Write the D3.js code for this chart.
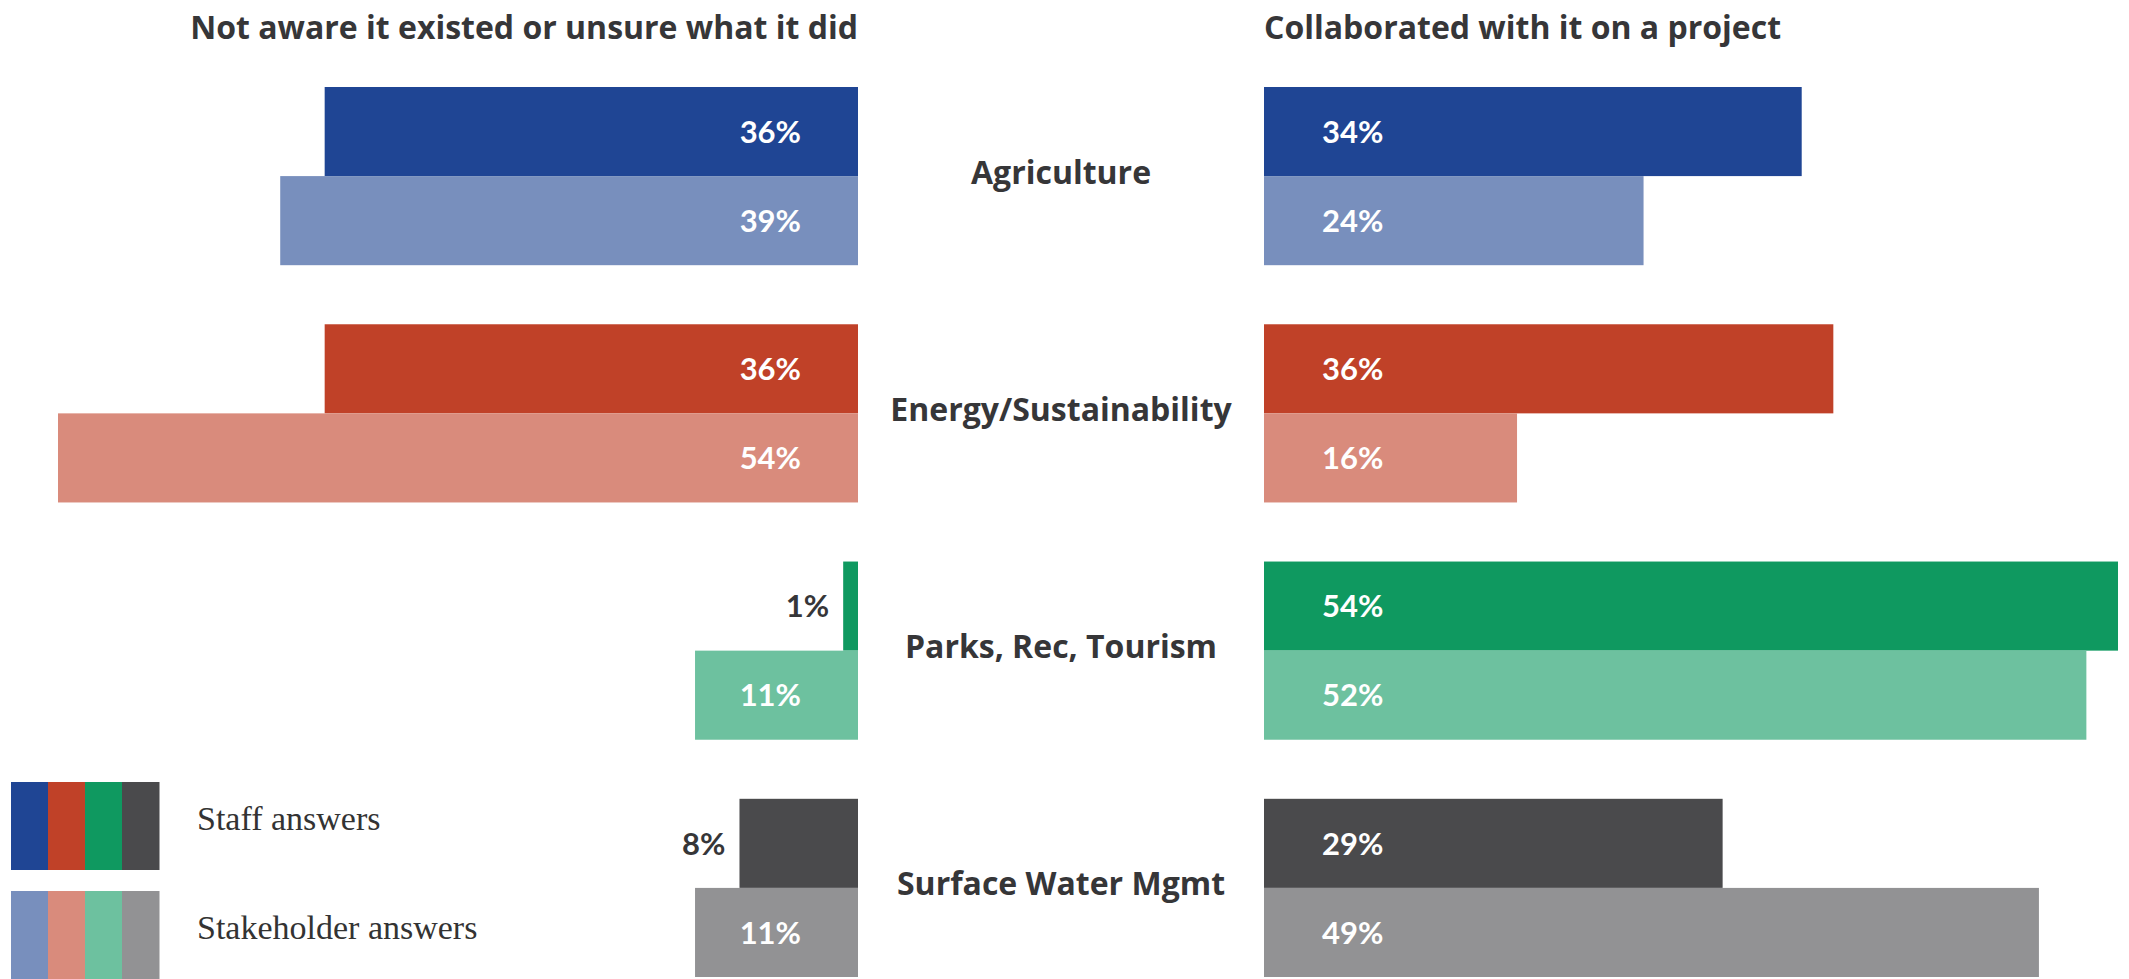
<!DOCTYPE html>
<html>
<head>
<meta charset="utf-8">
<script src="https://cdn.jsdelivr.net/npm/d3@7"></script>
<style>
  html, body { margin: 0; padding: 0; background: #ffffff; }
  svg { display: block; }
</style>
</head>
<body>
<svg id="chart" width="2129" height="979"></svg>
<script>
// ---- Data ----
const categories = ["Agriculture", "Energy/Sustainability", "Parks, Rec, Tourism", "Surface Water Mgmt"];
const seriesNames = ["Staff answers", "Stakeholder answers"];
const notAwareStaff = [36, 36, 1, 8];
const notAwareStakeholder = [39, 54, 11, 11];
const collaboratedStaff = [34, 36, 54, 29];
const collaboratedStakeholder = [24, 16, 52, 49];
const panelTitles = ["Not aware it existed or unsure what it did", "Collaborated with it on a project"];
const staffColors = ["#1f4594", "#c04128", "#0f9960", "#4a4a4c"];
const stakeholderColors = ["#788fbd", "#d98b7c", "#6dc19f", "#929294"];

// ---- Layout ----
const leftZero = 858, rightZero = 1264;
const headFont = "'Open Sans', Lato, sans-serif";
const numFont = "Lato, 'Open Sans', sans-serif";
const textDark = "#363638";

const svg = d3.select("#chart");

const yGroup = d3.scaleBand().domain(categories).range([87, 977]).paddingInner(0.249).paddingOuter(0);
const ySeries = d3.scaleBand().domain(seriesNames).range([0, yGroup.bandwidth()]).padding(0);

const xLeft = d3.scaleLinear().domain([0, 54]).range([leftZero, 58]);
const xRight = d3.scaleLinear().domain([0, 54]).range([rightZero, 2118]);

const rows = [];
categories.forEach((c, i) => {
  rows.push({cat: c, series: seriesNames[0], left: notAwareStaff[i], right: collaboratedStaff[i], color: staffColors[i]});
  rows.push({cat: c, series: seriesNames[1], left: notAwareStakeholder[i], right: collaboratedStakeholder[i], color: stakeholderColors[i]});
});

// Titles
svg.append("text")
  .attr("x", leftZero).attr("y", 39)
  .attr("text-anchor", "end")
  .attr("font-family", headFont).attr("font-weight", 700).attr("font-size", 32)
  .attr("fill", textDark)
  .text(panelTitles[0]);
svg.append("text")
  .attr("x", rightZero).attr("y", 39)
  .attr("text-anchor", "start")
  .attr("font-family", headFont).attr("font-weight", 700).attr("font-size", 32)
  .attr("fill", textDark)
  .text(panelTitles[1]);

const g = svg.append("g");

// Left bars
g.selectAll("rect.left").data(rows).join("rect")
  .attr("class", "left")
  .attr("x", d => xLeft(d.left))
  .attr("y", d => yGroup(d.cat) + ySeries(d.series))
  .attr("width", d => xLeft(0) - xLeft(d.left))
  .attr("height", ySeries.bandwidth())
  .attr("fill", d => d.color);

// Right bars
g.selectAll("rect.right").data(rows).join("rect")
  .attr("class", "right")
  .attr("x", xRight(0))
  .attr("y", d => yGroup(d.cat) + ySeries(d.series))
  .attr("width", d => xRight(d.right) - xRight(0))
  .attr("height", ySeries.bandwidth())
  .attr("fill", d => d.color);

// Left labels
g.selectAll("text.lval").data(rows).join("text")
  .attr("class", "lval")
  .attr("x", d => d.left < 10 ? xLeft(d.left) - 14 : leftZero - 57)
  .attr("y", d => yGroup(d.cat) + ySeries(d.series) + ySeries.bandwidth() / 2)
  .attr("dy", "0.36em")
  .attr("text-anchor", "end")
  .attr("font-family", numFont).attr("font-weight", 700).attr("font-size", 31)
  .attr("fill", d => d.left < 10 ? textDark : "#ffffff")
  .text(d => d.left + "%");

// Right labels
g.selectAll("text.rval").data(rows).join("text")
  .attr("class", "rval")
  .attr("x", rightZero + 58)
  .attr("y", d => yGroup(d.cat) + ySeries(d.series) + ySeries.bandwidth() / 2)
  .attr("dy", "0.36em")
  .attr("text-anchor", "start")
  .attr("font-family", numFont).attr("font-weight", 700).attr("font-size", 31)
  .attr("fill", "#ffffff")
  .text(d => d.right + "%");

// Category labels
g.selectAll("text.cat").data(categories).join("text")
  .attr("class", "cat")
  .attr("x", (leftZero + rightZero) / 2)
  .attr("y", d => yGroup(d) + yGroup.bandwidth() / 2 - 4)
  .attr("dy", "0.36em")
  .attr("text-anchor", "middle")
  .attr("font-family", headFont).attr("font-weight", 700).attr("font-size", 32)
  .attr("fill", textDark)
  .text(d => d);

// Legend
const legendRows = [
  {name: seriesNames[0], colors: staffColors, y: 782},
  {name: seriesNames[1], colors: stakeholderColors, y: 891}
];
const swW = 37, swH = 88, lx = 11;
const lg = svg.append("g");
legendRows.forEach(r => {
  lg.selectAll(null).data(r.colors).join("rect")
    .attr("x", (d, i) => lx + i * swW)
    .attr("y", r.y)
    .attr("width", swW + 0.5)
    .attr("height", swH)
    .attr("fill", d => d);
  lg.append("text")
    .attr("x", 197)
    .attr("y", r.y + swH / 2 - 7)
    .attr("dy", "0.32em")
    .attr("font-family", "'Liberation Serif', 'DejaVu Serif', serif")
    .attr("font-size", 34)
    .attr("fill", "#333333")
    .text(r.name);
});
</script>
</body>
</html>
